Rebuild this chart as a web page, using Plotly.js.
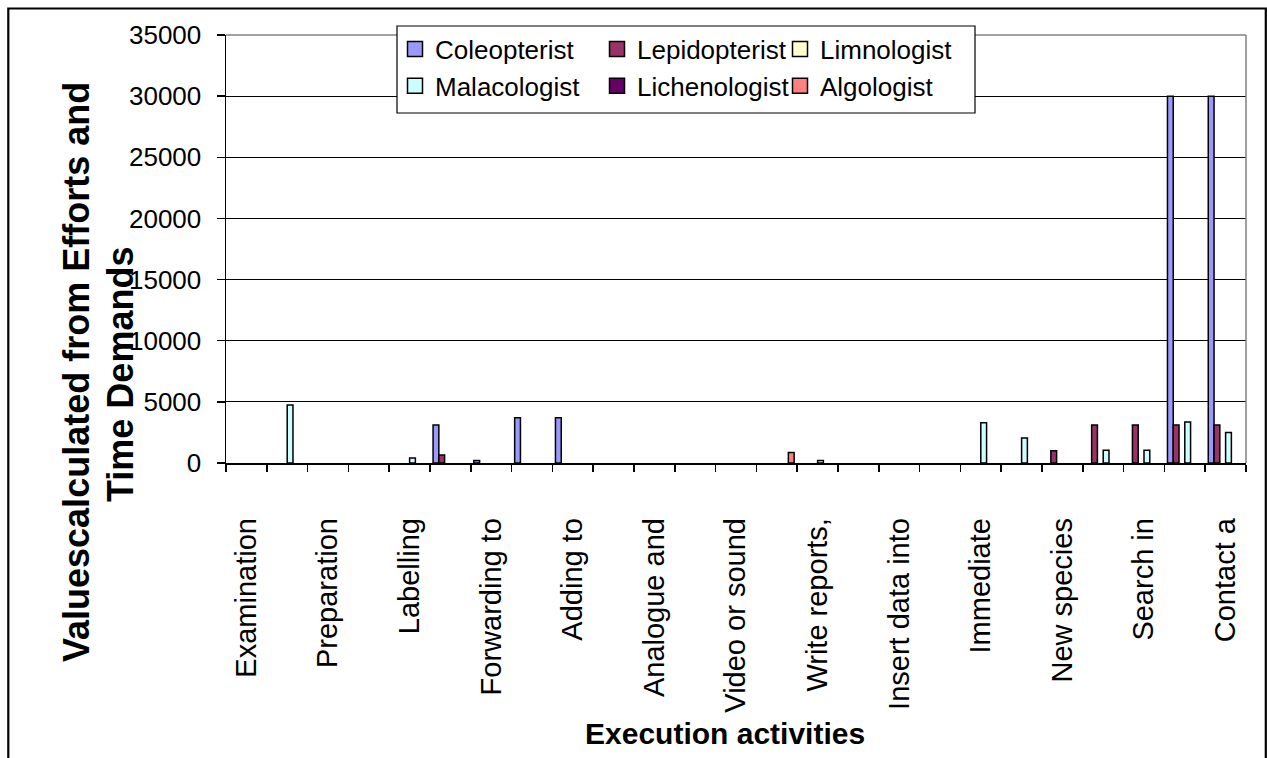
<!DOCTYPE html>
<html>
<head>
<meta charset="utf-8">
<script src="https://cdn.plot.ly/plotly-3.0.1.min.js"></script>
<style>html,body{margin:0;padding:0;background:#fff;}#chart{width:1267px;height:758px;}</style>
</head>
<body>
<div id="chart"></div>
<script>
// 25 category slots; only every second slot carries a visible label
var categoryIndex = [1,2,3,4,5,6,7,8,9,10,11,12,13,14,15,16,17,18,19,20,21,22,23,24,25];
var labelIndex = [1,3,5,7,9,11,13,15,17,19,21,23,25];
var tickLabels = ["Examination","Preparation","Labelling","Forwarding to","Adding to","Analogue and","Video or sound","Write reports,","Insert data into","Immediate","New species","Search in","Contact a"];

var seriesNames = ["Coleopterist","Lepidopterist","Limnologist","Malacologist","Lichenologist","Algologist"];
var seriesColors = ["#9999FF","#993366","#FFFFCC","#CCFFFF","#660066","#FF8080"];

var coleopterist  = [null,null,null,null,null,3100,200,3700,3700,null,null,null,null,null,null,null,null,null,null,null,null,null,null,30000,30000];
var lepidopterist = [null,null,null,null,null,650,null,null,null,null,null,null,null,null,null,null,null,null,null,null,1000,3100,3100,3100,3100];
var limnologist   = [null,null,null,null,null,null,null,null,null,null,null,null,null,null,null,null,null,null,null,null,null,null,null,null,null];
var malacologist  = [null,4750,null,null,400,null,null,null,null,null,null,null,null,null,200,null,null,null,3300,2050,null,1050,1050,3350,2500];
var lichenologist = [null,null,null,null,null,null,null,null,null,null,null,null,null,null,null,null,null,null,null,null,null,null,null,null,null];
var algologist    = [null,null,null,null,null,null,null,null,null,null,null,null,null,850,null,null,null,null,null,null,null,null,null,null,null];

var yTicks = [0,5000,10000,15000,20000,25000,30000,35000];
var yTitleLines = ["Valuescalculated from Efforts and", "Time Demands"];
var xTitle = "Execution activities";

var seriesValues = [coleopterist, lepidopterist, limnologist, malacologist, lichenologist, algologist];
var legendIds = ["legend","legend2","legend3","legend","legend2","legend3"];
var FONT = "Liberation Sans, Arial, sans-serif";

var traces = [];
seriesNames.forEach(function(name, i){
  traces.push({
    type: "bar", name: name, x: categoryIndex, y: seriesValues[i],
    marker: {color: seriesColors[i], line: {color: "#000", width: 1.5}},
    showlegend: false, hoverinfo: "x+y+name"
  });
});
seriesNames.forEach(function(name, i){
  traces.push({
    type: "scatter", mode: "markers", name: name, x: [null], y: [null],
    marker: {symbol: "square", size: 15, color: seriesColors[i], line: {color: "#000", width: 1.5}},
    legend: legendIds[i], legendgroup: "g" + i, showlegend: true, hoverinfo: "skip"
  });
});

// pixel helpers for paper coordinates (plot area 226..1246 x 35..463)
var L = 226, R = 1246, T = 35, B = 463;
function px(x){ return (x - L) / (R - L); }
function py(y){ return (B - y) / (B - T); }

function legendAt(xpix){
  return {x: px(xpix), y: py(25.5), xanchor: "left", yanchor: "top", orientation: "v",
          bgcolor: "rgba(0,0,0,0)", borderwidth: 0, tracegroupgap: 0, traceorder: "grouped",
          font: {family: FONT, size: 26, color: "#000"}, itemclick: false, itemdoubleclick: false};
}

var layout = {
  width: 1267, height: 758,
  margin: {l: L, r: 1267 - R, t: T, b: 758 - B, pad: 0},
  paper_bgcolor: "#fff", plot_bgcolor: "#fff",
  barmode: "group", bargap: 0.15, bargroupgap: 0,
  font: {family: FONT, color: "#000"},
  xaxis: {
    type: "linear", range: [0.5, 25.5], fixedrange: true,
    tickmode: "array", tickvals: labelIndex, ticktext: tickLabels,
    ticks: "", tickangle: -90, ticklabelstandoff: 42,
    tickfont: {family: FONT, size: 29, color: "#000"},
    showline: true, linecolor: "#000", linewidth: 1.5,
    showgrid: false, zeroline: false,
    minor: {tickmode: "linear", tick0: 0.5, dtick: 1, ticks: "outside", ticklen: 7, tickwidth: 1.5, tickcolor: "#000", showgrid: false}
  },
  yaxis: {
    range: [0, 35000], fixedrange: true,
    tickmode: "array", tickvals: yTicks, ticktext: yTicks.map(String),
    ticks: "outside", ticklen: 8, tickwidth: 1.5, tickcolor: "#000", ticklabelstandoff: 10,
    tickfont: {family: FONT, size: 26, color: "#000"},
    showline: true, linecolor: "#000", linewidth: 1.5,
    showgrid: true, gridcolor: "#000", gridwidth: 1, zeroline: false
  },
  legend: legendAt(395),
  legend2: legendAt(597),
  legend3: legendAt(780),
  shapes: [
    // outer chart frame
    {type: "rect", xref: "paper", yref: "paper", x0: px(8.3), x1: px(1265.8), y0: py(780), y1: py(8.5),
     line: {color: "#000", width: 2.2}, fillcolor: "rgba(0,0,0,0)", layer: "above"},
    // plot area top and right border (grey)
    {type: "line", xref: "paper", yref: "paper", x0: 0, x1: 1, y0: 1, y1: 1, line: {color: "#808080", width: 1.5}, layer: "above"},
    {type: "line", xref: "paper", yref: "paper", x0: 1, x1: 1, y0: 0, y1: 1, line: {color: "#808080", width: 1.5}, layer: "above"},
    // legend box
    {type: "rect", xref: "paper", yref: "paper", x0: px(397), x1: px(975), y0: py(113), y1: py(26),
     line: {color: "#000", width: 1.2}, fillcolor: "#fff", layer: "above"}
  ],
  annotations: [
    {text: yTitleLines[0], xref: "paper", yref: "paper",
     x: px(76), y: py(372), xanchor: "center", yanchor: "middle", textangle: -90, showarrow: false,
     font: {family: FONT, size: 36, color: "#000", weight: 700}},
    {text: yTitleLines[1], xref: "paper", yref: "paper",
     x: px(120), y: py(375), xanchor: "center", yanchor: "middle", textangle: -90, showarrow: false,
     font: {family: FONT, size: 36, color: "#000", weight: 700}},
    {text: xTitle, xref: "paper", yref: "paper",
     x: px(725), y: py(733), xanchor: "center", yanchor: "middle", showarrow: false,
     font: {family: FONT, size: 30, color: "#000", weight: 700}}
  ]
};

Plotly.newPlot("chart", traces, layout, {displayModeBar: false, staticPlot: true});
</script>
</body>
</html>
